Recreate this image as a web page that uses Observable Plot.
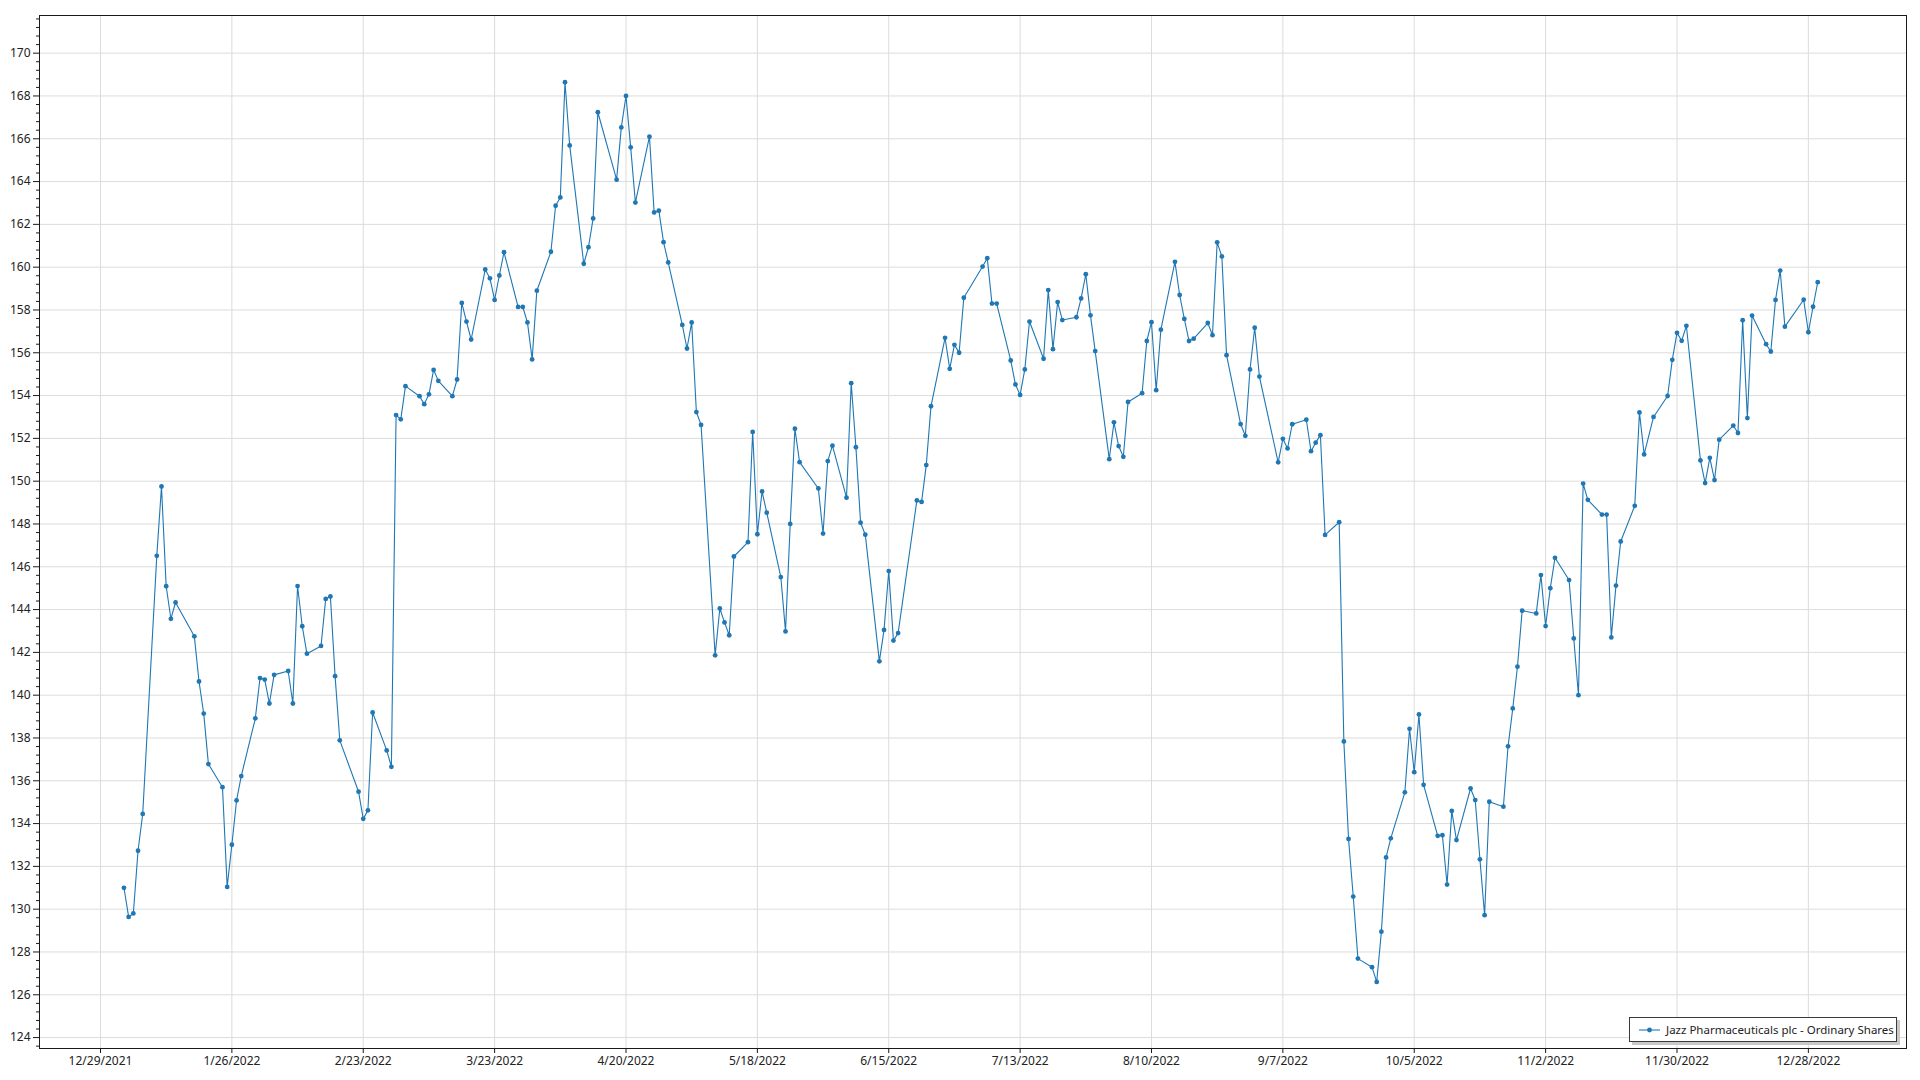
<!DOCTYPE html>
<html>
<head>
<meta charset="utf-8">
<script src="https://cdn.jsdelivr.net/npm/d3@7"></script>
<script src="https://cdn.jsdelivr.net/npm/@observablehq/plot@0.6"></script>
<style>
html, body { margin: 0; padding: 0; background: #fff; }
#wrap { position: relative; width: 1920px; height: 1080px; font-family: "Noto Sans", sans-serif; }
#legend { position: absolute; left: 1629px; top: 1017px; width: 268px; height: 25px; box-sizing: border-box;
  border: 1px solid #3a3a3a; box-shadow: 3px 3px 0 #c8c8c8; background: #fff; display: flex; align-items: center;
  font-size: 11.5px; color: #222; white-space: nowrap; }
#legend svg { margin-left: 9px; margin-right: 6px; }
</style>
</head>
<body>
<div id="wrap"></div>
<script>
const seriesName = "Jazz Pharmaceuticals plc - Ordinary Shares";

const dates = [
"2022-01-03","2022-01-04","2022-01-05","2022-01-06","2022-01-07","2022-01-10","2022-01-11","2022-01-12","2022-01-13","2022-01-14",
"2022-01-18","2022-01-19","2022-01-20","2022-01-21","2022-01-24","2022-01-25","2022-01-26","2022-01-27","2022-01-28","2022-01-31",
"2022-02-01","2022-02-02","2022-02-03","2022-02-04","2022-02-07","2022-02-08","2022-02-09","2022-02-10","2022-02-11","2022-02-14",
"2022-02-15","2022-02-16","2022-02-17","2022-02-18","2022-02-22","2022-02-23","2022-02-24","2022-02-25","2022-02-28",
"2022-03-01","2022-03-02","2022-03-03","2022-03-04","2022-03-07","2022-03-08","2022-03-09","2022-03-10","2022-03-11","2022-03-14",
"2022-03-15","2022-03-16","2022-03-17","2022-03-18","2022-03-21","2022-03-22","2022-03-23","2022-03-24","2022-03-25","2022-03-28",
"2022-03-29","2022-03-30","2022-03-31",
"2022-04-01","2022-04-04","2022-04-05","2022-04-06","2022-04-07","2022-04-08","2022-04-11","2022-04-12","2022-04-13","2022-04-14",
"2022-04-18","2022-04-19","2022-04-20","2022-04-21","2022-04-22","2022-04-25","2022-04-26","2022-04-27","2022-04-28","2022-04-29",
"2022-05-02","2022-05-03","2022-05-04","2022-05-05","2022-05-06","2022-05-09","2022-05-10","2022-05-11","2022-05-12","2022-05-13",
"2022-05-16","2022-05-17","2022-05-18","2022-05-19","2022-05-20","2022-05-23","2022-05-24","2022-05-25","2022-05-26","2022-05-27",
"2022-05-31",
"2022-06-01","2022-06-02","2022-06-03","2022-06-06","2022-06-07","2022-06-08","2022-06-09","2022-06-10","2022-06-13","2022-06-14",
"2022-06-15","2022-06-16","2022-06-17","2022-06-21","2022-06-22","2022-06-23","2022-06-24","2022-06-27","2022-06-28","2022-06-29",
"2022-06-30",
"2022-07-01","2022-07-05","2022-07-06","2022-07-07","2022-07-08","2022-07-11","2022-07-12","2022-07-13","2022-07-14","2022-07-15",
"2022-07-18","2022-07-19","2022-07-20","2022-07-21","2022-07-22","2022-07-25","2022-07-26","2022-07-27","2022-07-28","2022-07-29",
"2022-08-01","2022-08-02","2022-08-03","2022-08-04","2022-08-05","2022-08-08","2022-08-09","2022-08-10","2022-08-11","2022-08-12",
"2022-08-15","2022-08-16","2022-08-17","2022-08-18","2022-08-19","2022-08-22","2022-08-23","2022-08-24","2022-08-25","2022-08-26",
"2022-08-29","2022-08-30","2022-08-31",
"2022-09-01","2022-09-02","2022-09-06","2022-09-07","2022-09-08","2022-09-09","2022-09-12","2022-09-13","2022-09-14","2022-09-15",
"2022-09-16","2022-09-19","2022-09-20","2022-09-21","2022-09-22","2022-09-23","2022-09-26","2022-09-27","2022-09-28","2022-09-29",
"2022-09-30",
"2022-10-03","2022-10-04","2022-10-05","2022-10-06","2022-10-07","2022-10-10","2022-10-11","2022-10-12","2022-10-13","2022-10-14",
"2022-10-17","2022-10-18","2022-10-19","2022-10-20","2022-10-21","2022-10-24","2022-10-25","2022-10-26","2022-10-27","2022-10-28",
"2022-10-31",
"2022-11-01","2022-11-02","2022-11-03","2022-11-04","2022-11-07","2022-11-08","2022-11-09","2022-11-10","2022-11-11","2022-11-14",
"2022-11-15","2022-11-16","2022-11-17","2022-11-18","2022-11-21","2022-11-22","2022-11-23","2022-11-25","2022-11-28","2022-11-29",
"2022-11-30",
"2022-12-01","2022-12-02","2022-12-05","2022-12-06","2022-12-07","2022-12-08","2022-12-09","2022-12-12","2022-12-13","2022-12-14",
"2022-12-15","2022-12-16","2022-12-19","2022-12-20","2022-12-21","2022-12-22","2022-12-23","2022-12-27","2022-12-28","2022-12-29",
"2022-12-30"
];

const prices = [
131.00,129.64,129.80,132.73,134.45,146.51,149.75,145.09,143.57,144.33,
142.75,140.64,139.14,136.78,135.70,131.04,133.01,135.08,136.22,138.92,
140.80,140.73,139.61,140.95,141.13,139.61,145.10,143.22,141.94,142.30,
144.50,144.61,140.89,137.89,135.49,134.22,134.62,139.19,137.42,
136.65,153.09,152.89,154.44,153.97,153.60,154.06,155.20,154.69,153.97,
154.75,158.33,157.46,156.62,159.89,159.48,158.47,159.61,160.70,158.14,
158.14,157.42,155.69,
158.90,160.72,162.87,163.26,168.64,165.69,160.16,160.93,162.28,167.24,
164.09,166.53,168.00,165.60,163.02,166.10,162.56,162.64,161.17,160.22,
157.30,156.20,157.42,153.23,152.63,141.86,144.05,143.40,142.80,146.48,
147.15,152.30,147.52,149.52,148.53,145.52,142.98,148.00,152.45,150.89,
149.66,
147.55,150.94,151.66,149.23,154.58,151.59,148.06,147.50,141.58,143.05,
145.80,142.55,142.90,149.10,149.03,150.75,153.50,156.70,155.25,156.37,
156.00,
158.57,160.03,160.42,158.30,158.30,155.64,154.52,154.03,155.22,157.46,
155.72,158.93,156.17,158.37,157.53,157.66,158.54,159.67,157.75,156.08,
151.03,152.75,151.64,151.14,153.70,154.11,156.55,157.43,154.25,157.08,
160.25,158.70,157.58,156.55,156.66,157.39,156.82,161.16,160.50,155.89,
152.67,152.12,155.22,
157.17,154.89,150.88,151.98,151.53,152.66,152.87,151.40,151.80,152.15,
147.49,148.08,137.84,133.28,130.59,127.69,127.29,126.60,128.95,132.42,
133.31,
135.46,138.43,136.40,139.10,135.81,133.43,133.46,131.15,134.59,133.23,
135.64,135.10,132.33,129.72,135.02,134.79,137.61,139.38,141.33,143.95,
143.82,
145.61,143.23,145.00,146.42,145.38,142.65,140.00,149.89,149.13,148.44,
148.44,142.70,145.12,147.18,148.85,153.21,151.25,153.00,153.98,155.67,
156.93,
156.56,157.26,150.97,149.91,151.09,150.05,151.94,152.60,152.25,157.52,
152.95,157.74,156.40,156.06,158.47,159.84,157.22,158.48,156.96,158.15,
159.30
];

const xTickLabels = ["2021-12-29","2022-01-26","2022-02-23","2022-03-23","2022-04-20","2022-05-18","2022-06-15",
  "2022-07-13","2022-08-10","2022-09-07","2022-10-05","2022-11-02","2022-11-30","2022-12-28"];
const yTickValues = d3.range(124, 171, 2);

const lineColor = "#1f77b4";
const parse = d3.utcParse("%Y-%m-%d");
const data = dates.map((d, i) => ({date: parse(d), price: prices[i]}));
const xTicks = xTickLabels.map(parse);
const yMinor = d3.range(123.6, 171.7, 0.4).filter(v => Math.abs(v / 2 - Math.round(v / 2)) > 0.01);
const fmt = d => `${d.getUTCMonth() + 1}/${d.getUTCDate()}/${d.getUTCFullYear()}`;

const chart = Plot.plot({
  width: 1920,
  height: 1080,
  marginLeft: 39,
  marginRight: 14,
  marginTop: 15,
  marginBottom: 32,
  style: {fontFamily: "'Noto Sans', sans-serif", fontSize: "12px", color: "#222", background: "#fff"},
  x: {type: "utc", domain: [parse("2021-12-16"), new Date(Date.UTC(2023, 0, 17, 22))], label: null},
  y: {domain: [123.49, 171.76], label: null},
  marks: [
    Plot.gridX(xTicks, {stroke: "#dcdcdc", strokeOpacity: 1}),
    Plot.gridY(yTickValues, {stroke: "#dcdcdc", strokeOpacity: 1}),
    Plot.line(data, {x: "date", y: "price", stroke: lineColor, strokeWidth: 1.1}),
    Plot.dot(data, {x: "date", y: "price", r: 2.4, fill: lineColor, stroke: null}),
    Plot.frame({stroke: "#1a1a1a"}),
    Plot.axisY(yTickValues, {tickSize: 6, tickPadding: 3, fontSize: 12, stroke: "#1a1a1a", fill: "#222"}),
    Plot.axisY(yMinor, {tickSize: 3, tickFormat: () => "", stroke: "#1a1a1a"}),
    Plot.axisX(xTicks, {tickSize: 5, tickPadding: 3, fontSize: 12, tickFormat: fmt, stroke: "#1a1a1a", fill: "#222"})
  ]
});

const wrap = document.getElementById("wrap");
wrap.appendChild(chart);

const legend = document.createElement("div");
legend.id = "legend";
legend.innerHTML = `<svg width="21" height="8"><line x1="0" y1="4" x2="21" y2="4" stroke="${lineColor}" stroke-width="1.1"/><circle cx="10.5" cy="4" r="2.4" fill="${lineColor}"/></svg><span></span>`;
legend.querySelector("span").textContent = seriesName;
wrap.appendChild(legend);
</script>
</body>
</html>
